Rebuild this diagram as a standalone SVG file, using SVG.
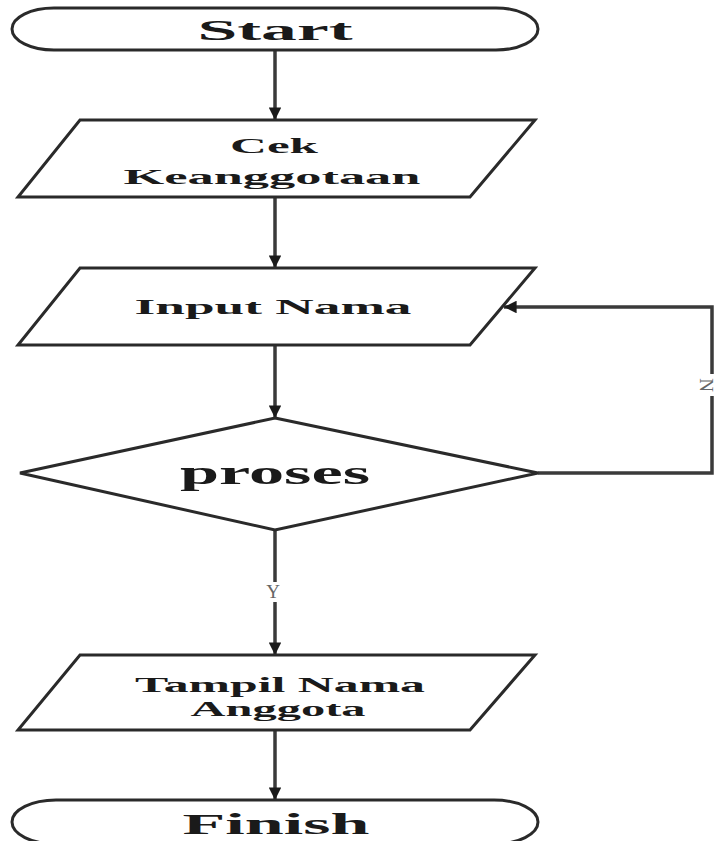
<svg xmlns="http://www.w3.org/2000/svg" width="716" height="841" viewBox="0 0 716 841">
<style>
.shape{fill:#fff;stroke:#2a2a2a;stroke-width:3}
.conn{fill:none;stroke:#3a3a3a;stroke-width:3.5}
.t{font-family:"Liberation Serif","Times New Roman",serif;font-weight:bold;fill:#1a1a1a;text-anchor:middle}
.lbl{font-family:"Liberation Serif","Times New Roman",serif;fill:#666;text-anchor:middle;font-size:19px}
</style>
<defs>
<marker id="ah" viewBox="0 0 10 10" refX="10" refY="5" markerWidth="3.6" markerHeight="3.6" orient="auto" markerUnits="strokeWidth">
<path d="M0,0 L10,5 L0,10 Z" fill="#1a1a1a"/>
</marker>
</defs>
<rect width="716" height="841" fill="#fff"/>
<g id="connectors">
<line class="conn" x1="275" y1="50" x2="275" y2="120" marker-end="url(#ah)"/>
<line class="conn" x1="275" y1="197" x2="275" y2="268" marker-end="url(#ah)"/>
<line class="conn" x1="275" y1="345" x2="275" y2="418" marker-end="url(#ah)"/>
<line class="conn" x1="275" y1="530" x2="275" y2="655" marker-end="url(#ah)"/>
<line class="conn" x1="275" y1="730" x2="275" y2="800" marker-end="url(#ah)"/>
<polyline class="conn" points="538,473 712,473 712,307 504,307" marker-end="url(#ah)"/>
<rect x="264" y="582" width="18" height="20" fill="#fff"/>
<text class="lbl" x="273" y="598">Y</text>
<rect x="700" y="374" width="20" height="22" fill="#fff"/>
<text class="lbl" transform="translate(706,385) rotate(90)" y="6">N</text>
</g>
<g id="start">
<rect class="shape" x="12" y="8" width="526" height="42" rx="42" ry="21"/>
<text class="t" x="275" y="40" font-size="30" textLength="155" lengthAdjust="spacingAndGlyphs">Start</text>
</g>
<g id="cek">
<polygon class="shape" points="80,120 535,120 470,197 18,197"/>
<text class="t" x="274" y="153" font-size="22" textLength="88" lengthAdjust="spacingAndGlyphs">Cek</text>
<text class="t" x="272" y="184" font-size="22" textLength="297" lengthAdjust="spacingAndGlyphs">Keanggotaan</text>
</g>
<g id="input">
<polygon class="shape" points="80,268 535,268 470,345 18,345"/>
<text class="t" x="273" y="314" font-size="22" textLength="277" lengthAdjust="spacingAndGlyphs">Input Nama</text>
</g>
<g id="proses">
<polygon class="shape" points="275,418 538,473 275,530 20,473"/>
<text class="t" x="275" y="484" font-size="33" textLength="190" lengthAdjust="spacingAndGlyphs">proses</text>
</g>
<g id="tampil">
<polygon class="shape" points="80,655 535,655 470,730 18,730"/>
<text class="t" x="280" y="692" font-size="22" textLength="290" lengthAdjust="spacingAndGlyphs">Tampil Nama</text>
<text class="t" x="278" y="716" font-size="22" textLength="175" lengthAdjust="spacingAndGlyphs">Anggota</text>
</g>
<g id="finish">
<rect class="shape" x="12" y="800" width="526" height="44" rx="44" ry="22"/>
<text class="t" x="276" y="834" font-size="30" textLength="187" lengthAdjust="spacingAndGlyphs">Finish</text>
</g>
</svg>
